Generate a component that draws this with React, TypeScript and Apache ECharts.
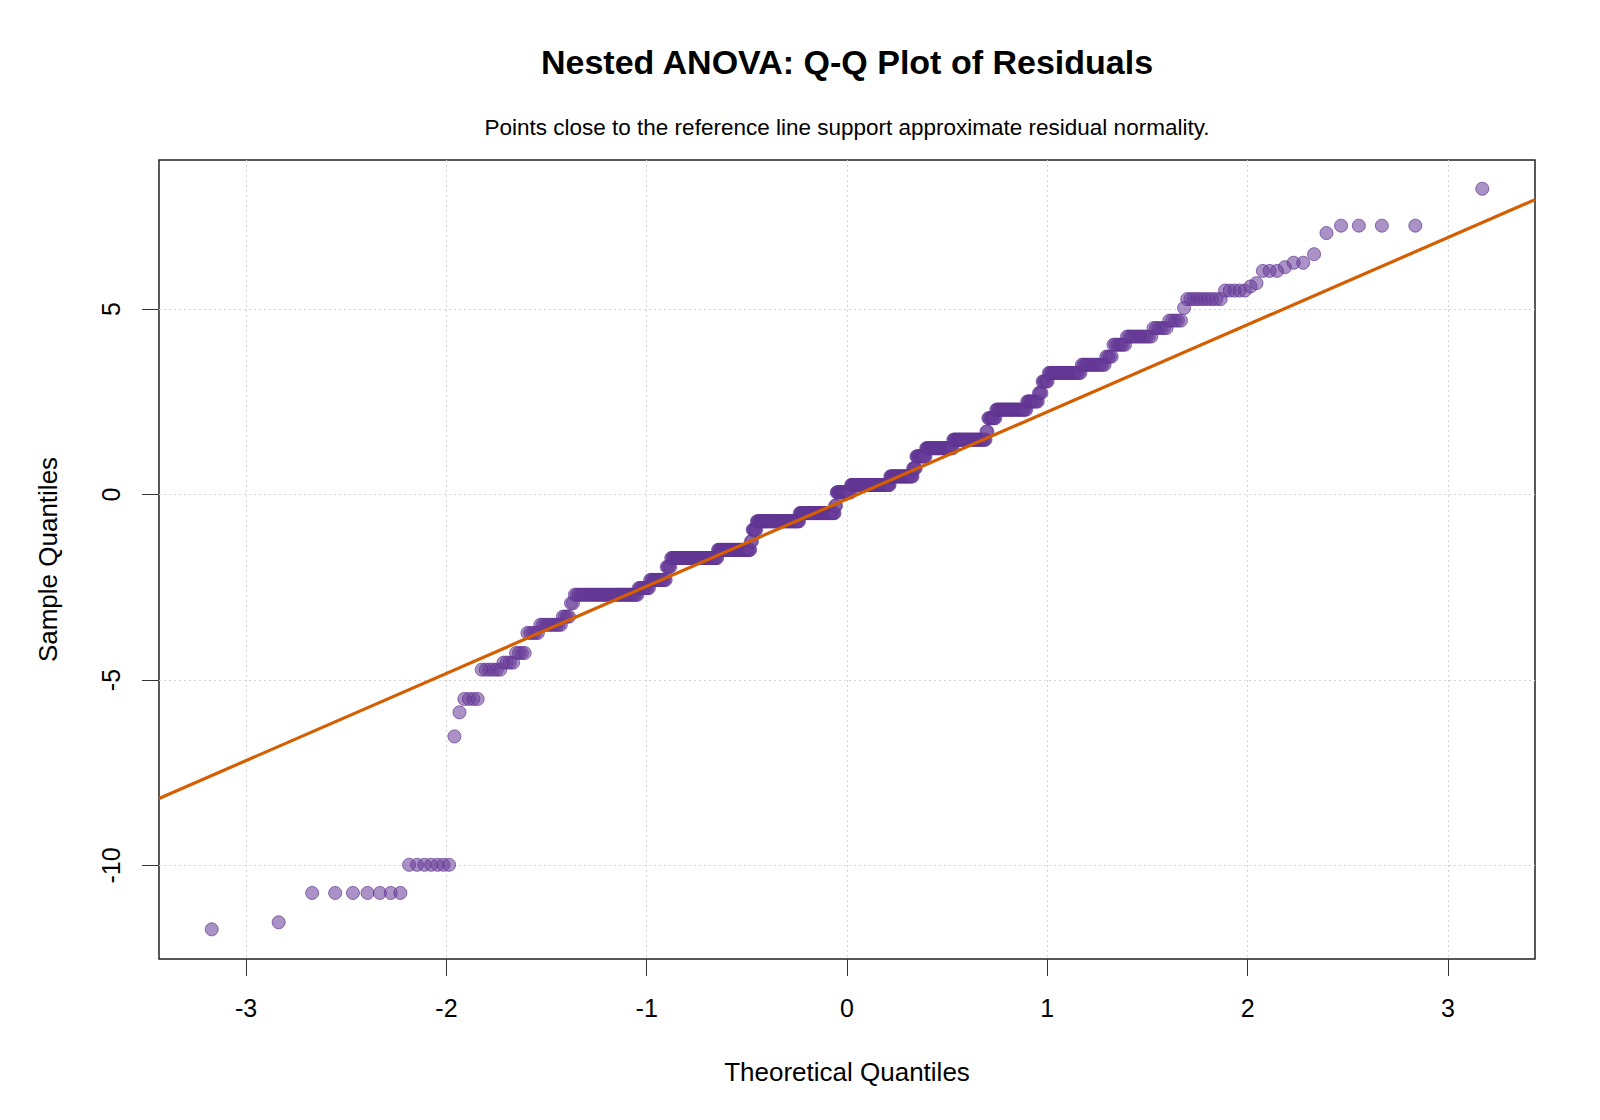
import React, { useEffect, useRef } from "react";
import * as echarts from "echarts";

// Sorted residuals, stored as tied levels and how many residuals sit at each level
const residualLevels = [
  -11.72, -11.53, -10.74, -9.98, -6.52, -5.87, -5.51, -4.72, -4.53, -4.27,
  -3.73, -3.51, -3.29, -2.93, -2.7, -2.52, -2.3, -1.95, -1.71, -1.49,
  -1.26, -0.95, -0.72, -0.5, -0.3, 0.06, 0.26, 0.49, 0.71, 1.03,
  1.25, 1.48, 1.7, 2.06, 2.29, 2.51, 2.74, 3.05, 3.28, 3.5,
  3.72, 4.04, 4.26, 4.49, 4.69, 5.03, 5.27, 5.5, 5.61, 5.7,
  6.03, 6.13, 6.25, 6.48, 7.05, 7.25, 8.245,
];
const residualCounts = [
  1, 1, 7, 7, 1, 1, 4, 6, 4, 4,
  5, 10, 4, 2, 41, 9, 14, 4, 46, 37,
  2, 5, 53, 46, 2, 19, 51, 29, 4, 12,
  32, 36, 2, 8, 29, 10, 3, 5, 24, 15,
  4, 7, 12, 6, 5, 1, 10, 5, 1, 1,
  3, 1, 2, 1, 1, 4, 1,
];

// Reference line (qqline through the quartiles)
const lineIntercept = -0.12;
const lineSlope = 2.35;

const xTicks = [-3, -2, -1, 0, 1, 2, 3];
const yTicks = [-10, -5, 0, 5];
const xRange = [-3.435, 3.435];
const yRange = [-12.52, 9.02];

const titleText = "Nested ANOVA: Q-Q Plot of Residuals";
const subtitleText = "Points close to the reference line support approximate residual normality.";
const xName = "Theoretical Quantiles";
const yName = "Sample Quantiles";

// Inverse standard normal CDF (Acklam)
function qnorm(p: number): number {
  const a = [-3.969683028665376e1, 2.209460984245205e2, -2.759285104469687e2, 1.38357751867269e2, -3.066479806614716e1, 2.506628277459239];
  const b = [-5.447609879822406e1, 1.615858368580409e2, -1.556989798598866e2, 6.680131188771972e1, -1.328068155288572e1];
  const c = [-7.784894002430293e-3, -3.223964580411365e-1, -2.400758277161838, -2.549671010228175, 4.374664141464968, 2.938163982698783];
  const d = [7.784695709041462e-3, 3.224671290700398e-1, 2.445134137142996, 3.754408661907416];
  const plow = 0.02425;
  const phigh = 1 - plow;
  if (p < plow) {
    const q = Math.sqrt(-2 * Math.log(p));
    return (((((c[0] * q + c[1]) * q + c[2]) * q + c[3]) * q + c[4]) * q + c[5]) / ((((d[0] * q + d[1]) * q + d[2]) * q + d[3]) * q + 1);
  }
  if (p <= phigh) {
    const q = p - 0.5;
    const r = q * q;
    return ((((((a[0] * r + a[1]) * r + a[2]) * r + a[3]) * r + a[4]) * r + a[5]) * q) / (((((b[0] * r + b[1]) * r + b[2]) * r + b[3]) * r + b[4]) * r + 1);
  }
  const q = Math.sqrt(-2 * Math.log(1 - p));
  return -(((((c[0] * q + c[1]) * q + c[2]) * q + c[3]) * q + c[4]) * q + c[5]) / ((((d[0] * q + d[1]) * q + d[2]) * q + d[3]) * q + 1);
}

const FONT = "'Liberation Sans', Arial, Helvetica, sans-serif";

export default function App() {
  const ref = useRef<HTMLDivElement>(null);

  useEffect(() => {
    if (!ref.current) return;
    const chart = echarts.init(ref.current, null, { renderer: "svg" });

    const sample: number[] = [];
    residualLevels.forEach((v, i) => {
      for (let k = 0; k < residualCounts[i]; k++) sample.push(v);
    });
    const n = sample.length;
    const points = sample.map((v, i) => [qnorm((i + 1 - 0.5) / n), v]);
    const lineData = xRange.map((x) => [x, lineIntercept + lineSlope * x]);

    chart.setOption({
      animation: false,
      backgroundColor: "#ffffff",
      title: [
        {
          text: titleText,
          left: 842,
          top: 40,
          textAlign: "center",
          textStyle: { fontFamily: FONT, fontSize: 34, fontWeight: "bold", color: "#000" },
        },
        {
          text: subtitleText,
          left: 842,
          top: 111,
          textAlign: "center",
          textStyle: { fontFamily: FONT, fontSize: 22.5, fontWeight: "normal", color: "#000" },
        },
      ],
      grid: {
        left: 159,
        top: 160,
        width: 1376,
        height: 799,
        show: true,
        borderColor: "#222",
        borderWidth: 1.5,
        backgroundColor: "transparent",
      },
      xAxis: {
        type: "value",
        min: xRange[0],
        max: xRange[1],
        axisLine: { show: false, onZero: false },
        axisTick: { show: true, length: 17, inside: false, customValues: xTicks, lineStyle: { color: "#333", width: 1 } },
        axisLabel: { customValues: xTicks, fontFamily: FONT, fontSize: 25, color: "#000", margin: 36 },
        splitLine: { show: true, lineStyle: { color: "#d3d3d3", width: 1, type: [2, 3] } },
        name: xName,
        nameLocation: "middle",
        nameGap: 100,
        nameTextStyle: { fontFamily: FONT, fontSize: 26, color: "#000" },
      },
      yAxis: {
        type: "value",
        min: yRange[0],
        max: yRange[1],
        axisLine: { show: false, onZero: false },
        axisTick: { show: true, length: 17, inside: false, customValues: yTicks, lineStyle: { color: "#333", width: 1 } },
        axisLabel: { customValues: yTicks, rotate: 90, fontFamily: FONT, fontSize: 25, color: "#000", margin: 36 },
        splitLine: { show: true, lineStyle: { color: "#d3d3d3", width: 1, type: [2, 3] } },
        name: yName,
        nameLocation: "middle",
        nameGap: 98,
        nameRotate: 90,
        nameTextStyle: { fontFamily: FONT, fontSize: 26, color: "#000" },
      },
      series: [
        {
          type: "scatter",
          data: points,
          symbol: "circle",
          symbolSize: 13,
          itemStyle: {
            color: "rgba(106,61,154,0.7)",
            borderColor: "rgba(95,52,145,0.85)",
            borderWidth: 1,
          },
          z: 2,
        },
        {
          type: "line",
          data: lineData,
          showSymbol: false,
          symbol: "none",
          lineStyle: { color: "#D55E00", width: 3.2 },
          z: 3,
        },
      ],
    });

    return () => {
      chart.dispose();
    };
  }, []);

  return (
    <div
      ref={ref}
      style={{ position: "fixed", left: 0, top: 0, width: 1600, height: 1120, background: "#fff" }}
    />
  );
}
